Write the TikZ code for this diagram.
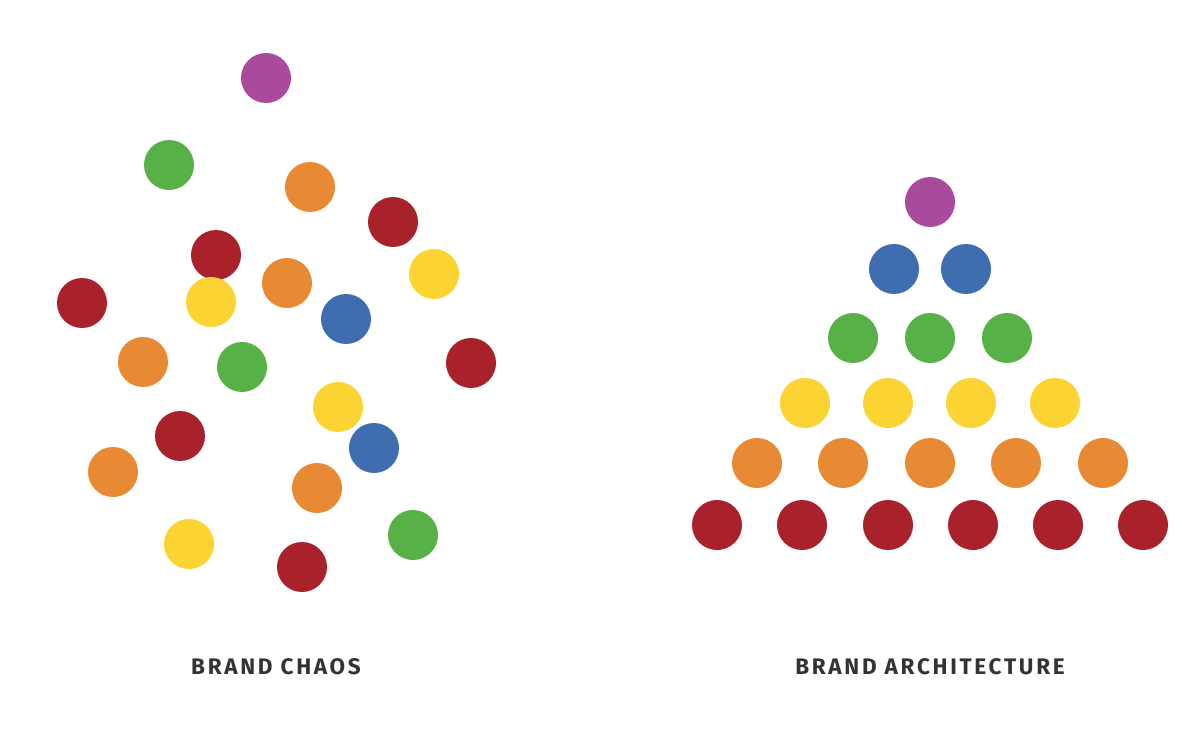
\documentclass[tikz,border=0pt]{standalone}
\usepackage{fontspec}
\setmainfont{Fira Sans}
\definecolor{bpurple}{HTML}{A94A9C}
\definecolor{bblue}{HTML}{3E6DB0}
\definecolor{bgreen}{HTML}{58B146}
\definecolor{byellow}{HTML}{FBD433}
\definecolor{borange}{HTML}{E88A33}
\definecolor{bred}{HTML}{A8212B}
\definecolor{btext}{HTML}{333333}
\begin{document}
\begin{tikzpicture}[x=1pt,y=-1pt,
		caption/.style={text=btext,font=\fontsize{22.5}{26}\selectfont\bfseries\addfontfeatures{LetterSpace=12}}]
	\useasboundingbox (0,0) rectangle (1200,730);
	% brand chaos
	\foreach \x/\y/\c in {266/78/bpurple, 169/165/bgreen, 310/187/borange, 393/222/bred,
		216/255/bred, 434/274/byellow, 287/283/borange, 82/303/bred, 211/302/byellow,
		346/319/bblue, 143/362/borange, 242/367/bgreen, 471/363/bred, 338/407/byellow,
		180/436/bred, 374/448/bblue, 113/472/borange, 317/488/borange, 413/535/bgreen,
		189/544/byellow, 302/567/bred}
		\fill[\c] (\x,\y) circle(25pt);
	% brand architecture
	\foreach \y/\c/\xs in {202/bpurple/{930}, 269/bblue/{894,966}, 338/bgreen/{853,930,1007},
		403/byellow/{805,888,971,1055}, 463/borange/{757,843,930,1016,1103},
		525/bred/{717,802,888,973,1058,1143}}
		\foreach \x in \xs
			\fill[\c] (\x,\y) circle(25pt);
	\node[caption] (chaos) at (276,667) {BRAND CHAOS};
	\node[caption] (arch) at (930,667) {BRAND ARCHITECTURE};
\end{tikzpicture}
\end{document}
